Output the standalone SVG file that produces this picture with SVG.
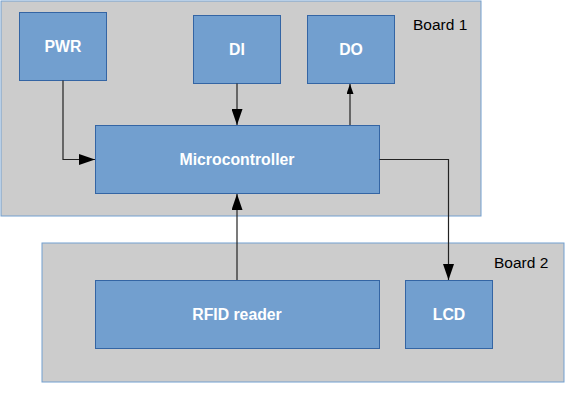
<svg xmlns="http://www.w3.org/2000/svg" width="575" height="401" viewBox="0 0 575 401">
<style>
.board{fill:#cccccc;stroke:#729fcf;stroke-width:1}
.node{fill:#729fcf;stroke:#3465a4;stroke-width:1}
.lbl{font-family:"Liberation Sans",Arial,sans-serif;font-size:15.8px;font-weight:bold;fill:#ffffff;text-anchor:middle}
.blbl{font-family:"Liberation Sans",Arial,sans-serif;font-size:15.5px;fill:#000000}
.conn{fill:none;stroke:#222;stroke-width:1.2}
</style>
<defs>
<marker id="arr" viewBox="0 0 16 11" refX="16" refY="5.5" markerWidth="16" markerHeight="11" markerUnits="userSpaceOnUse" orient="auto">
<path d="M0,0 L16,5.5 L0,11 Z" fill="#000"/>
</marker>
<marker id="arrs" viewBox="0 0 10 7" refX="10" refY="3.5" markerWidth="10" markerHeight="7" markerUnits="userSpaceOnUse" orient="auto">
<path d="M0,0 L10,3.5 L0,7 Z" fill="#000"/>
</marker>
</defs>
<g id="board1">
<rect class="board" x="1" y="1" width="480" height="215"/>
<text class="blbl" x="413" y="30">Board 1</text>
</g>
<g id="board2">
<rect class="board" x="42" y="243" width="522" height="139"/>
<text class="blbl" x="494" y="268">Board 2</text>
</g>
<g id="pwr">
<rect class="node" x="19.5" y="12.5" width="87" height="68"/>
<text class="lbl" x="63" y="52">PWR</text>
</g>
<g id="di">
<rect class="node" x="193.5" y="15.5" width="87" height="68"/>
<text class="lbl" x="237" y="55">DI</text>
</g>
<g id="do">
<rect class="node" x="307.5" y="15.5" width="87" height="68"/>
<text class="lbl" x="351" y="55">DO</text>
</g>
<g id="micro">
<rect class="node" x="95.5" y="125.5" width="284" height="68"/>
<text class="lbl" x="237" y="165">Microcontroller</text>
</g>
<g id="rfid">
<rect class="node" x="95.5" y="280.5" width="284" height="68"/>
<text class="lbl" x="237" y="320">RFID reader</text>
</g>
<g id="lcd">
<rect class="node" x="405.5" y="280.5" width="87" height="68"/>
<text class="lbl" x="449" y="320">LCD</text>
</g>
<g id="connectors">
<path class="conn" d="M63,80.5 V159.5 H95" marker-end="url(#arr)"/>
<path class="conn" d="M237,83.5 V125" marker-end="url(#arr)"/>
<path class="conn" d="M350,125 V84" marker-end="url(#arrs)"/>
<path class="conn" d="M379.5,159.5 H448.5 V280" marker-end="url(#arr)"/>
<path class="conn" d="M237,280 V194" marker-end="url(#arr)"/>
</g>
</svg>
